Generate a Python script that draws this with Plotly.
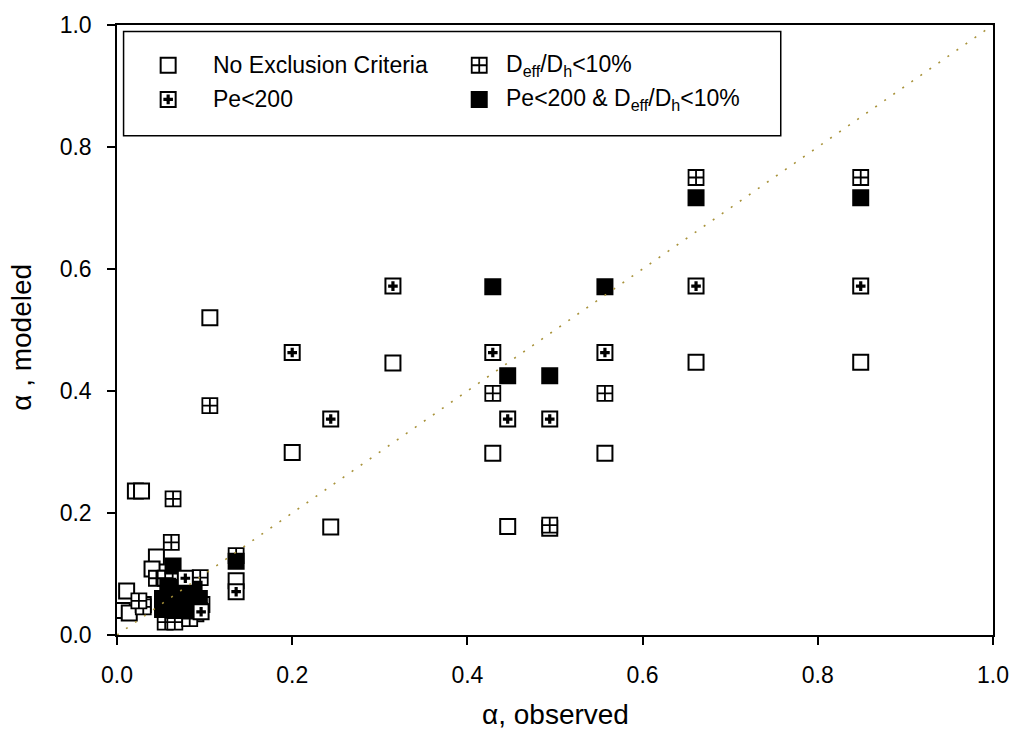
import plotly.graph_objects as go

# Observed vs. modeled alpha, grouped by the exclusion criterion applied
none_x = [0.106, 0.200, 0.244, 0.315, 0.429, 0.446, 0.494, 0.557, 0.661, 0.849, 0.136,
          0.021, 0.028, 0.045, 0.040, 0.011, 0.006, 0.014, 0.030, 0.060, 0.080, 0.090, 0.068, 0.052]
none_y = [0.520, 0.299, 0.177, 0.446, 0.298, 0.178, 0.175, 0.298, 0.447, 0.447, 0.089,
          0.236, 0.236, 0.128, 0.108, 0.072, 0.040, 0.036, 0.050, 0.025, 0.070, 0.035, 0.030, 0.060]

deff_x = [0.106, 0.429, 0.494, 0.557, 0.661, 0.849, 0.136,
          0.064, 0.062, 0.045, 0.055, 0.095, 0.097, 0.030, 0.025, 0.055, 0.066, 0.083]
deff_y = [0.376, 0.396, 0.180, 0.396, 0.750, 0.750, 0.130,
          0.223, 0.152, 0.093, 0.093, 0.094, 0.050, 0.046, 0.056, 0.021, 0.021, 0.027]

pe_x = [0.200, 0.244, 0.315, 0.429, 0.446, 0.494, 0.557, 0.661, 0.849, 0.136,
        0.078, 0.096]
pe_y = [0.463, 0.354, 0.572, 0.463, 0.354, 0.354, 0.463, 0.572, 0.572, 0.071,
        0.093, 0.038]

both_x = [0.429, 0.446, 0.494, 0.557, 0.661, 0.849, 0.136,
          0.064, 0.052, 0.066, 0.080, 0.094, 0.052, 0.066, 0.080, 0.094, 0.058, 0.072, 0.088]
both_y = [0.571, 0.425, 0.425, 0.571, 0.717, 0.717, 0.121,
          0.113, 0.060, 0.060, 0.060, 0.060, 0.042, 0.040, 0.042, 0.040, 0.080, 0.078, 0.075]

one_to_one = [0.0, 1.0]

legend_labels = ["No Exclusion Criteria", "D<sub>eff</sub>/D<sub>h</sub>&lt;10%",
                 "Pe&lt;200", "Pe&lt;200 &amp; D<sub>eff</sub>/D<sub>h</sub>&lt;10%"]

FONT = "Arial, Liberation Sans, sans-serif"
SIZE = 15
EDGE = dict(color="black", width=2)

open_sq = dict(symbol="square", size=SIZE, color="white", line=EDGE)
cross_sq = dict(symbol="square-cross", size=SIZE, color="white", line=dict(color="black", width=1.8))
plus_dot = dict(symbol="cross", size=8, color="black", line=dict(width=0))
filled_sq = dict(symbol="square", size=SIZE, color="black", line=EDGE)

fig = go.Figure()

def add(xs, ys, marker):
    fig.add_trace(go.Scatter(x=xs, y=ys, mode="markers", marker=marker,
                             showlegend=False, hoverinfo="x+y"))

add(none_x, none_y, open_sq)
add(deff_x, deff_y, cross_sq)
add(both_x, both_y, filled_sq)
add(pe_x, pe_y, open_sq)
add(pe_x, pe_y, plus_dot)

# 1:1 line
fig.add_trace(go.Scatter(x=one_to_one, y=one_to_one, mode="lines",
                         line=dict(color="#a8923a", width=1.6, dash="2px,9px"),
                         showlegend=False, hoverinfo="skip"))

# legend box with keys in two columns
key_x = [0.0584, 0.4135]
key_y = [0.934, 0.878]
text_x = [0.1068, 0.4419]
fig.add_shape(type="rect", xref="paper", yref="paper", x0=0.0075, x1=0.7577,
              y0=0.8185, y1=0.9892, line=dict(color="black", width=1.5),
              fillcolor="white", layer="below")
legend_keys = [(0, 0, [open_sq]), (1, 0, [cross_sq]), (0, 1, [open_sq, plus_dot]), (1, 1, [filled_sq])]
for col, row, markers in legend_keys:
    for m in markers:
        fig.add_trace(go.Scatter(x=[key_x[col]], y=[key_y[row]], mode="markers",
                                 marker=m, showlegend=False, hoverinfo="skip"))
for i, label in enumerate(legend_labels):
    col, row = i % 2, i // 2
    fig.add_annotation(x=text_x[col], y=key_y[row], xref="paper", yref="paper",
                       text=label, showarrow=False, xanchor="left", yanchor="middle",
                       font=dict(family=FONT, size=23, color="black"))

# axis titles
fig.add_annotation(x=0.5, y=-0.131, xref="paper", yref="paper", text="α, observed",
                   showarrow=False, xanchor="center", yanchor="middle",
                   font=dict(family=FONT, size=28, color="black"))
fig.add_annotation(x=-0.109, y=0.488, xref="paper", yref="paper", text="α , modeled",
                   textangle=-90, showarrow=False, xanchor="center", yanchor="middle",
                   font=dict(family=FONT, size=28, color="black"))

ticks = [0.0, 0.2, 0.4, 0.6, 0.8, 1.0]
axis_style = dict(range=[0, 1], tickvals=ticks, ticktext=[f"{t:.1f}" for t in ticks],
                  showgrid=False, zeroline=False, showline=True, linecolor="black",
                  linewidth=1.5, mirror=True, ticks="outside", ticklen=8, tickwidth=1.5,
                  tickcolor="black", tickfont=dict(family=FONT, size=23, color="black"))

fig.update_layout(
    width=1021, height=733,
    margin=dict(l=117, r=21, t=16, b=98),
    plot_bgcolor="white", paper_bgcolor="white",
    xaxis=dict(**axis_style, ticklabelstandoff=11),
    yaxis=dict(**axis_style, ticklabelstandoff=11),
    showlegend=False,
)

fig.write_html("out.html")
